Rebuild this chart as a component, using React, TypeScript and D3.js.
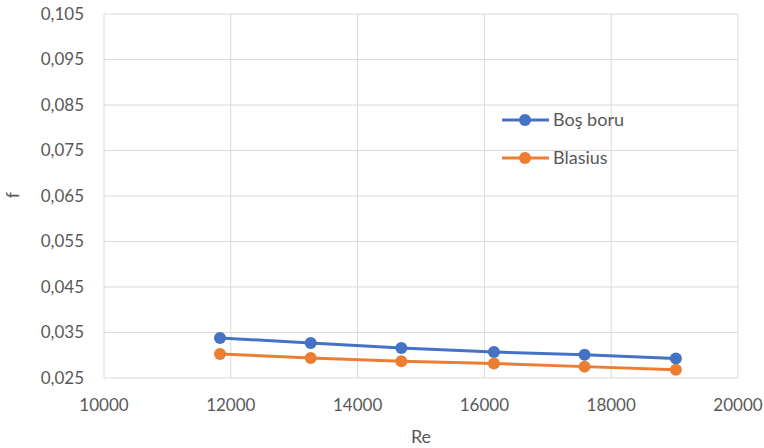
import React from "react";
import * as d3 from "d3";

const reValues = [11830, 13260, 14690, 16150, 17580, 19020];
const bosBoru = [0.0338, 0.0327, 0.0316, 0.0307, 0.0301, 0.0293];
const blasius = [0.0303, 0.0294, 0.0287, 0.0282, 0.0275, 0.0268];
const xTicks = [10000, 12000, 14000, 16000, 18000, 20000];
const yTicks = [0.025, 0.035, 0.045, 0.055, 0.065, 0.075, 0.085, 0.095, 0.105];
const seriesNames = ["Boş boru", "Blasius"];
const seriesColors = ["#4472C4", "#ED7D31"];

const W = 764;
const H = 448;
const m = { left: 104, right: 26, top: 14, bottom: 70 };
const FONT = "Lato, 'Open Sans', sans-serif";
const TXT = "#595959";
const GRID = "#d9d9d9";

export default function App() {
  const x = d3.scaleLinear().domain([10000, 20000]).range([m.left, W - m.right]);
  const y = d3.scaleLinear().domain([0.025, 0.105]).range([H - m.bottom, m.top]);
  const fmtY = (v: number) => v.toFixed(3).replace(".", ",");
  const line = d3
    .line<[number, number]>()
    .x((d) => x(d[0]))
    .y((d) => y(d[1]));
  const series = [bosBoru, blasius];

  return (
    <svg
      width={W}
      height={H}
      style={{ position: "absolute", left: 0, top: 0, background: "#fff" }}
      fontFamily={FONT}
    >
      {yTicks.map((t) => (
        <line key={"gy" + t} x1={x(10000)} x2={x(20000)} y1={y(t)} y2={y(t)} stroke={GRID} strokeWidth={1} />
      ))}
      {xTicks.map((t) => (
        <line key={"gx" + t} x1={x(t)} x2={x(t)} y1={y(0.025)} y2={y(0.105)} stroke={GRID} strokeWidth={1} />
      ))}
      {yTicks.map((t) => (
        <text key={"ty" + t} x={84} y={y(t)} dy="0.35em" textAnchor="end" fontSize={17} fill={TXT}>
          {fmtY(t)}
        </text>
      ))}
      {xTicks.map((t) => (
        <text key={"tx" + t} x={x(t)} y={411} textAnchor="middle" fontSize={17} fill={TXT}>
          {t}
        </text>
      ))}
      <text x={421} y={443} textAnchor="middle" fontSize={18} fill={TXT}>
        Re
      </text>
      <text x={19} y={195} textAnchor="middle" fontSize={18} fill={TXT} transform="rotate(-90 19 195)">
        f
      </text>
      {series.map((s, i) => {
        const pts = reValues.map((r, j) => [r, s[j]] as [number, number]);
        return (
          <g key={"s" + i}>
            <path d={line(pts) || ""} fill="none" stroke={seriesColors[i]} strokeWidth={3} strokeLinejoin="round" />
            {pts.map((p, j) => (
              <circle key={j} cx={x(p[0])} cy={y(p[1])} r={6} fill={seriesColors[i]} />
            ))}
          </g>
        );
      })}
      {seriesNames.map((n, i) => {
        const ly = 120 + i * 38;
        return (
          <g key={"l" + i}>
            <line x1={502} x2={549} y1={ly} y2={ly} stroke={seriesColors[i]} strokeWidth={3} />
            <circle cx={525} cy={ly} r={6} fill={seriesColors[i]} />
            <text x={553} y={ly} dy="0.35em" fontSize={18} fill={TXT}>
              {n}
            </text>
          </g>
        );
      })}
    </svg>
  );
}
